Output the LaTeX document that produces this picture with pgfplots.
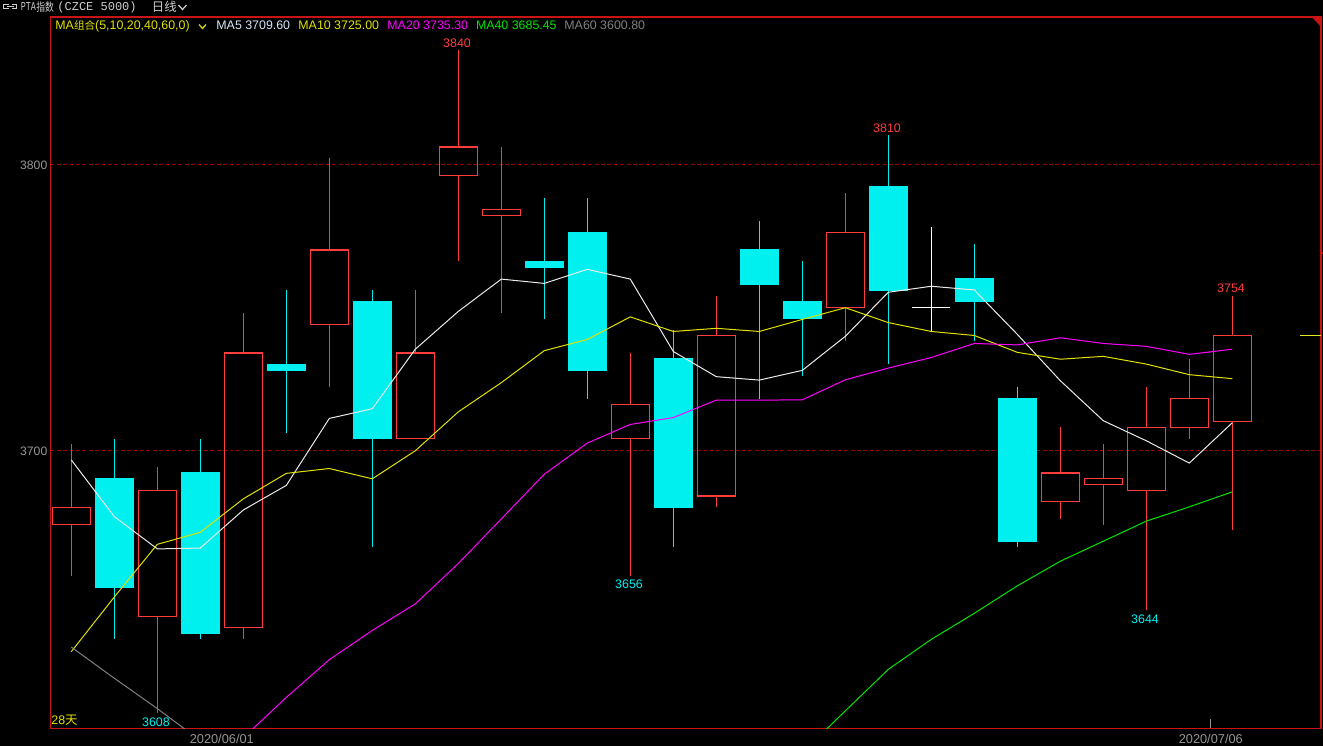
\documentclass[border=0pt]{standalone}
\usepackage{fontspec}
\setmainfont{Liberation Sans}
\newfontfamily\cjk{Noto Sans CJK SC}
\newfontfamily\mono{Liberation Mono}
\usepackage{pgfplots}
\pgfplotsset{compat=1.18}

\definecolor{framered}{RGB}{200,20,20}
\definecolor{gridred}{RGB}{150,0,0}
\definecolor{upred}{RGB}{255,60,60}
\definecolor{dncyan}{RGB}{0,240,240}
\definecolor{ma5}{RGB}{235,235,235}
\definecolor{ma5txt}{RGB}{215,228,245}
\definecolor{ma10}{RGB}{225,225,0}
\definecolor{ma20}{RGB}{255,0,255}
\definecolor{ma40}{RGB}{0,230,0}
\definecolor{ma60}{RGB}{128,128,128}
\definecolor{tickgray}{RGB}{150,150,150}
\definecolor{hdrgray}{RGB}{205,205,205}
\definecolor{lastpx}{RGB}{230,230,40}

\pgfplotsset{
  upc/.style={draw=upred, line width=0.6pt, mark=none},
  dnc/.style={draw=dncyan, line width=0.6pt, mark=none},
  djc/.style={draw=white, line width=0.6pt, mark=none},
}
% candle: position, open, high, low, close
\newcommand\up[5]{%
  \pgfmathsetmacro\xl{#1-0.445}\pgfmathsetmacro\xr{#1+0.445}%
  \edef\tmp{\noexpand\addplot[upc, fill=none] coordinates {(\xl,#2) (\xr,#2) (\xr,#5) (\xl,#5)} -- cycle;}\tmp
  \addplot[upc] coordinates {(#1,#5) (#1,#3)};
  \addplot[upc] coordinates {(#1,#4) (#1,#2)};
}
\newcommand\dn[5]{%
  \pgfmathsetmacro\xl{#1-0.445}\pgfmathsetmacro\xr{#1+0.445}%
  \addplot[dnc] coordinates {(#1,#4) (#1,#3)};
  \edef\tmp{\noexpand\addplot[dnc, fill=dncyan] coordinates {(\xl,#2) (\xr,#2) (\xr,#5) (\xl,#5)} -- cycle;}\tmp
}
\newcommand\doji[5]{%
  \pgfmathsetmacro\xl{#1-0.445}\pgfmathsetmacro\xr{#1+0.445}%
  \addplot[djc] coordinates {(#1,#4) (#1,#3)};
  \edef\tmp{\noexpand\addplot[djc] coordinates {(\xl,#2) (\xr,#5)};}\tmp
}

\begin{document}
\begin{tikzpicture}
\fill[black] (0,0) rectangle (661.5pt,-373pt);
\useasboundingbox (0,0) rectangle (661.5pt,-373pt);

\begin{axis}[%
at={(25.25pt,-364.15pt)}, anchor=south west,
width=635.25pt, height=355.65pt, scale only axis,
xmin=0.516, xmax=30.063,
ymin=3602.8, ymax=3851.4,
axis line style={draw=framered, line width=0.7pt},
ytick={3700,3800}, yticklabels={3700,3800},
xtick={4.5,27.5}, xticklabels={2020/06/01,2020/07/06},
major tick length=0pt,
ymajorgrids,
grid style={draw=gridred, dash pattern=on 2pt off 1.2pt, line width=0.5pt},
yticklabel style={font=\fontsize{6.1}{7}\selectfont, text=tickgray, anchor=base east, inner sep=0pt, xshift=-1.4pt, yshift=-2.5pt},
xticklabel style={font=\fontsize{6.4}{7}\selectfont, text=tickgray, anchor=base, inner sep=0pt, yshift=-7.5pt},
]

\up{1}{3674}{3702}{3656}{3680}
\dn{2}{3690}{3704}{3634}{3652}
\up{3}{3642}{3694}{3608}{3686}
\dn{4}{3692}{3704}{3634}{3636}
\up{5}{3638}{3748}{3634}{3734}
\dn{6}{3730}{3756}{3706}{3728}
\up{7}{3744}{3802}{3722}{3770}
\dn{8}{3752}{3756}{3666}{3704}
\up{9}{3704}{3756}{3704}{3734}
\up{10}{3796}{3840}{3766}{3806}
\up{11}{3782}{3806}{3748}{3784}
\dn{12}{3766}{3788}{3746}{3764}
\dn{13}{3776}{3788}{3718}{3728}
\up{14}{3704}{3734}{3656}{3716}
\dn{15}{3732}{3742}{3666}{3680}
\up{16}{3684}{3754}{3680}{3740}
\dn{17}{3770}{3780}{3718}{3758}
\dn{18}{3752}{3766}{3726}{3746}
\up{19}{3750}{3790}{3738}{3776}
\dn{20}{3792}{3810}{3730}{3756}
\doji{21}{3750}{3778}{3741.5}{3750}
\dn{22}{3760}{3772}{3738}{3752}
\dn{23}{3718}{3722}{3666}{3668}
\up{24}{3682}{3708}{3676}{3692}
\up{25}{3688}{3702}{3674}{3690}
\up{26}{3686}{3722}{3644}{3708}
\up{27}{3708}{3732}{3704}{3718}
\up{28}{3710}{3754}{3672}{3740}

% MA5
\addplot[ma5, line width=0.5pt] table {
1 3696.6
2 3676.8
3 3665.5
4 3665.8
5 3679.1
6 3687.7
7 3711.1
8 3714.5
9 3735.3
10 3748.5
11 3759.8
12 3758.3
13 3763.2
14 3759.8
15 3734.5
16 3725.7
17 3724.5
18 3727.9
19 3739.8
20 3755.2
21 3757.3
22 3756.0
23 3740.5
24 3724.3
25 3710.3
26 3703.3
27 3695.5
28 3709.6
};
% MA10
\addplot[ma10, line width=0.5pt] table {
1 3629.6
2 3648.7
3 3667.1
4 3671.3
5 3683.0
6 3691.9
7 3693.6
8 3690.0
9 3699.8
10 3713.4
11 3723.6
12 3734.8
13 3738.7
14 3746.6
15 3741.5
16 3742.6
17 3741.5
18 3745.7
19 3749.8
20 3744.6
21 3741.5
22 3740.1
23 3734.2
24 3731.8
25 3732.8
26 3730.1
27 3726.4
28 3725.0
};
% MA20
\addplot[ma20, line width=0.5pt] table {
5 3599.5
6 3613.6
7 3626.8
8 3637.0
9 3646.3
10 3660.4
11 3676.0
12 3691.6
13 3702.5
14 3709.0
15 3711.4
16 3717.5
17 3717.5
18 3717.6
19 3724.6
20 3728.7
21 3732.4
22 3737.3
23 3736.8
24 3739.3
25 3737.3
26 3736.3
27 3733.5
28 3735.3
};
% MA40
\addplot[ma40, line width=0.5pt] table {
18 3594.3
19 3608.9
20 3623.4
21 3633.9
22 3643.0
23 3652.6
24 3661.2
25 3668.2
26 3675.2
27 3680.2
28 3685.45
};
% MA60
\addplot[ma60, line width=0.5pt] table {
1 3631.2
2 3620.3
3 3609.7
4 3598.5
};
% last price marker
\addplot[lastpx, line width=0.6pt] coordinates {(29.57,3740) (30.063,3740)};
% small date tick
\addplot[tickgray, line width=0.5pt] coordinates {(27.5,3602.8) (27.5,3606.0)};
\end{axis}

\begin{scope}[x=0.5pt,y=-0.5pt]
% header
\draw[hdrgray, line width=0.6pt] (8.5,4.8) -- (3.6,4.8) -- (3.6,8.3) -- (8.5,8.3);
\draw[hdrgray, line width=0.6pt] (11.5,4.8) -- (16.4,4.8) -- (16.4,8.3) -- (11.5,8.3);
\draw[hdrgray, line width=0.6pt] (6.5,6.55) -- (13.5,6.55);
\node[anchor=base west, inner sep=0pt, text=hdrgray, font=\fontsize{6}{6}\selectfont\mono] at (20.5,10.5) {\scalebox{0.7}[1]{PTA}};
\node[anchor=base west, inner sep=0pt, text=hdrgray, font=\fontsize{5.8}{6}\selectfont\cjk] at (36,11.2) {\scalebox{0.76}[1]{指数}};
\node[anchor=base west, inner sep=0pt, text=hdrgray, font=\fontsize{6}{6}\selectfont\mono] at (57,10.5) {(CZCE 5000)};
\node[anchor=base west, inner sep=0pt, text=hdrgray, font=\fontsize{6.2}{6}\selectfont\cjk] at (151.5,11.5) {日线};
\draw[hdrgray, line width=0.6pt] (178.5,5) -- (182.5,9.5) -- (186.5,5);

% top right corner
\fill[framered] (1312,17) -- (1321,17) -- (1321,27) -- cycle;
\draw[framered, line width=0.6pt] (1321,253) -- (1323,253);

% legend
\node[anchor=base west, inner sep=0pt, text=ma10, font=\fontsize{6.2}{6}\selectfont] at (55,29.3)
  {MA{\fontsize{5.3}{6}\selectfont\cjk 组合}(5,10,20,40,60,0)};
\draw[ma10, line width=0.6pt] (199,24.5) -- (202.5,28.5) -- (206,24.5);
\node[anchor=base west, inner sep=0pt, text=ma5txt, font=\fontsize{6.2}{6}\selectfont] at (216,29.3) {MA5 3709.60};
\node[anchor=base west, inner sep=0pt, text=ma10, font=\fontsize{6.2}{6}\selectfont] at (298,29.3) {MA10 3725.00};
\node[anchor=base west, inner sep=0pt, text=ma20, font=\fontsize{6.2}{6}\selectfont] at (387,29.3) {MA20 3735.30};
\node[anchor=base west, inner sep=0pt, text=ma40, font=\fontsize{6.2}{6}\selectfont] at (475.6,29.3) {MA40 3685.45};
\node[anchor=base west, inner sep=0pt, text=ma60, font=\fontsize{6.2}{6}\selectfont] at (564,29.3) {MA60 3600.80};

% high / low labels
\begin{scope}[every node/.style={anchor=base, inner sep=0pt, font=\fontsize{6.2}{7}\selectfont}]
\node[text=upred] at (457,47.5) {3840};
\node[text=upred] at (887,132) {3810};
\node[text=upred] at (1231,292.5) {3754};
\node[text=dncyan] at (629,588.5) {3656};
\node[text=dncyan] at (1145,623.3) {3644};
\node[text=dncyan] at (156,726) {3608};
\node[text=ma10, anchor=base west] at (51,724) {28{\cjk 天}};
\end{scope}
\end{scope}
\end{tikzpicture}
\end{document}
